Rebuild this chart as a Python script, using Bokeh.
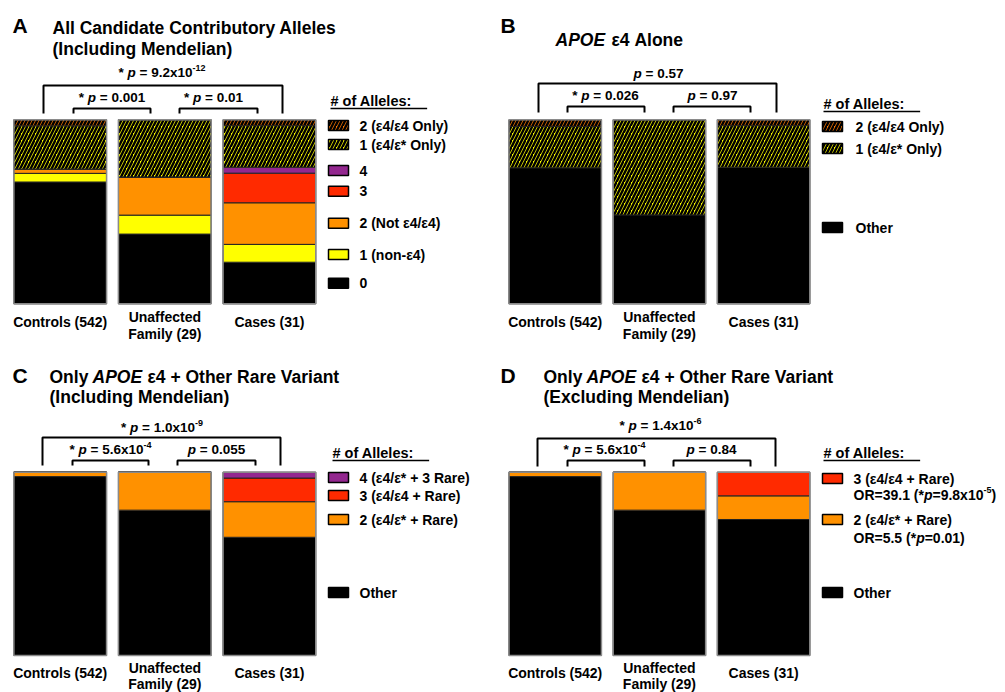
from bokeh.plotting import figure
from bokeh.models import Range1d, ColumnDataSource
from bokeh.layouts import column, row
from bokeh.core.properties import value
from bokeh.embed import file_html
from bokeh.resources import INLINE

FONT = "Liberation Sans"

# ------------------------------------------------------------------ data
categories = ["Controls (542)", "Unaffected\nFamily (29)", "Cases (31)"]

# Panel A (percent of group), stacked bottom -> top
a_zero        = [66.2, 37.9, 22.6]
a_one_non_e4  = [4.7, 10.3, 9.7]
a_two_not_e4  = [2.4, 20.7, 22.6]
a_three       = [0.0, 0.0, 16.1]
a_four        = [0.0, 0.0, 3.2]
a_one_e4_only = [23.4, 31.1, 22.6]
a_two_e4_only = [3.3, 0.0, 3.2]

# Panel B
b_other       = [73.9, 48.3, 74.2]
b_one_e4_only = [22.5, 51.7, 22.6]
b_two_e4_only = [3.6, 0.0, 3.2]

# Panel C
c_other = [97.6, 79.3, 64.5]
c_two   = [2.4, 20.7, 19.4]
c_three = [0.0, 0.0, 12.9]
c_four  = [0.0, 0.0, 3.2]

# Panel D
d_other = [97.6, 79.3, 74.2]
d_two   = [2.4, 20.7, 12.9]
d_three = [0.0, 0.0, 12.9]

# p-values: (significance star, mantissa, exponent)  order: outer, left, right
a_pvals = [("*", "9.2x10", "-12"), ("*", "0.001", ""), ("*", "0.01", "")]
b_pvals = [("", "0.57", ""), ("*", "0.026", ""), ("", "0.97", "")]
c_pvals = [("*", "1.0x10", "-9"), ("*", "5.6x10", "-4"), ("", "0.055", "")]
d_pvals = [("*", "1.4x10", "-6"), ("*", "5.6x10", "-4"), ("", "0.84", "")]

a_legend = ["2 (ε4/ε4 Only)", "1 (ε4/ε* Only)", "4", "3", "2 (Not ε4/ε4)", "1 (non-ε4)", "0"]
b_legend = ["2 (ε4/ε4 Only)", "1 (ε4/ε* Only)", "Other"]
c_legend = ["4 (ε4/ε* + 3 Rare)", "3 (ε4/ε4 + Rare)", "2 (ε4/ε* + Rare)", "Other"]
d_legend = ["3 (ε4/ε4 + Rare)", "2 (ε4/ε* + Rare)", "Other"]
d_odds = [("39.1", "9.8x10", "-5"), ("5.5", "0.01", "")]

# ------------------------------------------------------------------ styles
BLACK, YELLOW, ORANGE, RED, PURPLE, HORANGE = ("#000000", "#FFFF00", "#FF9100",
                                                "#FF2A00", "#93278F", "#FF7A00")
HATCH = "/"
HSTYLE = dict(hatch_scale=7, hatch_weight=2.5, hatch_color="black")

# Helvetica-Bold advance widths (per 1000 em)
W = {' ': 278, '*': 389, '=': 584, '.': 278, 'x': 556, '-': 333, '(': 333, ')': 333,
     'p': 611, 'O': 778, 'R': 722, 'ε': 500, '/': 278, '+': 584, '#': 556, ':': 333}
for d in "0123456789":
    W[d] = 556


def tw(s, size):
    return sum(W.get(ch, 580) for ch in s) * size / 1000.0


def make_fig(ox, oy, w, h, c1, sp, bar_top, bar_bot):
    p = figure(width=w, height=h, x_range=Range1d(ox, ox + w), y_range=Range1d(oy + h, oy),
               output_backend="svg", toolbar_location=None, min_border=0,
               x_axis_location=None, y_axis_location=None)
    p.xgrid.visible = False
    p.ygrid.visible = False
    p.outline_line_color = None
    p.background_fill_color = "white"
    p.border_fill_color = "white"
    p.extra_x_ranges = {"cat": Range1d(1 + (ox - c1) / sp, 1 + (ox + w - c1) / sp)}
    k = 100.0 / (bar_bot - bar_top)
    p.extra_y_ranges = {"pct": Range1d((bar_bot - (oy + h)) * k, (bar_bot - oy) * k)}
    return p


def text(p, x, y, s, size=14, style="bold", align="left"):
    p.text(x=[x], y=[y], text=[s], text_font=value(FONT), text_font_size=value(f"{size}px"),
           text_font_style=value(style), text_align=align, text_baseline="middle",
           text_color="black")


def rich(p, x, y, pieces, align="center"):
    total = sum(tw(t, sz) for t, st, sz, dy in pieces)
    cx = x - total / 2 if align == "center" else x
    for t, st, sz, dy in pieces:
        lead = len(t) - len(t.lstrip(" "))
        s = t.strip(" ")
        if s:
            text(p, cx + tw(" " * lead, sz), y + dy, s, size=sz, style=st)
        cx += tw(t, sz)


def pval_pieces(pv, size=13.5):
    star, mant, expo = pv
    pcs = []
    if star:
        pcs.append((star + " ", "bold", size, 0))
    pcs.append(("p", "bold italic", size, 0))
    pcs.append((" = " + mant, "bold", size, 0))
    if expo:
        pcs.append((expo, "bold", 9, -5))
    return pcs


def brackets(p, outer, inner_l, inner_r, pvals, texts_y, legs_bottom):
    x0, x1, top = outer
    p.line(x=[x0, x0, x1, x1], y=[legs_bottom, top, top, legs_bottom], line_color="black",
           line_width=2)
    for (a, b, t) in (inner_l, inner_r):
        p.line(x=[a, a, b, b], y=[legs_bottom, t, t, legs_bottom], line_color="black",
               line_width=2)
    for pv, (cx, cy) in zip(pvals, texts_y):
        rich(p, cx, cy, pval_pieces(pv))


def bars(p, layers, fills, hatches, sp, bw):
    keys = [f"s{i}" for i in range(len(layers))]
    data = {"x": [1, 2, 3]}
    for kk, v in zip(keys, layers):
        data[kk] = v
    src = ColumnDataSource(data)
    p.vbar_stack(keys, x="x", width=bw / sp, source=src, fill_color=fills,
                 line_color="#222222", line_width=1, hatch_pattern=hatches,
                 x_range_name="cat", y_range_name="pct", **HSTYLE)
    totals = [sum(col) for col in zip(*layers)]
    p.vbar(x=[1, 2, 3], width=bw / sp, bottom=0, top=totals, fill_color=None,
           line_color="#8a8a8a", line_width=1.5, x_range_name="cat", y_range_name="pct")


def cat_labels(p, c1, sp, y):
    for i, c in enumerate(categories):
        lines = c.split("\n")
        xc = c1 + i * sp
        if len(lines) == 1:
            text(p, xc, y, lines[0], size=14, align="center")
        else:
            text(p, xc, y - 5, lines[0], size=14, align="center")
            text(p, xc, y + 11.5, lines[1], size=14, align="center")


def legend(p, hx, hy, sx, tx, entries, sw=20, shh=10):
    text(p, hx, hy, "# of Alleles:", size=14.5)
    p.line(x=[hx, hx + tw("# of Alleles:", 14.5)], y=[hy + 8, hy + 8], line_color="black",
           line_width=1.3)
    for lab, y, col, hat in entries:
        p.rect(x=[sx + sw / 2], y=[y], width=sw, height=shh, fill_color=col,
               line_color="black", line_width=1.5, hatch_pattern=hat, **HSTYLE)
        if isinstance(lab, str):
            text(p, tx, y, lab, size=14)


def title_line(p, y, parts, size=17.5):
    for s, x, st in parts:
        text(p, x, y, s, size=size, style=st)


# ------------------------------------------------------------------ panel A
A_C1, A_SP, A_BW = 59.7, 104.6, 92.7
B_C1, B_SP, B_BW = 554.7, 104.2, 92.5

pA = make_fig(0, 0, 498, 358, A_C1, A_SP, 119.3, 303.3)
bars(pA, [a_zero, a_one_non_e4, a_two_not_e4, a_three, a_four, a_one_e4_only, a_two_e4_only],
     [BLACK, YELLOW, ORANGE, RED, PURPLE, YELLOW, HORANGE],
     [None, None, None, None, None, HATCH, HATCH], A_SP, A_BW)
text(pA, 12, 25, "A", size=21)
text(pA, 52, 27, "All Candidate Contributory Alleles", size=17.5)
text(pA, 52, 48, "(Including Mendelian)", size=17.5)
brackets(pA, (43, 282, 85), (73, 150, 108), (179, 257, 108), a_pvals,
         [(161.5, 72), (111.5, 97), (213, 97)], 113)
legend(pA, 330, 100, 328, 359, [
    (a_legend[0], 125, HORANGE, HATCH), (a_legend[1], 144, YELLOW, HATCH),
    (a_legend[2], 170, PURPLE, None), (a_legend[3], 190.7, RED, None),
    (a_legend[4], 222.7, ORANGE, None), (a_legend[5], 254, YELLOW, None),
    (a_legend[6], 282.7, BLACK, None)])
cat_labels(pA, A_C1, A_SP, 321.7)

# ------------------------------------------------------------------ panel B
pB = make_fig(498, 0, 507, 358, B_C1, B_SP, 119.3, 303.3)
bars(pB, [b_other, b_one_e4_only, b_two_e4_only], [BLACK, YELLOW, HORANGE],
     [None, HATCH, HATCH], B_SP, B_BW)
text(pB, 500, 25, "B", size=21)
title_line(pB, 39, [("APOE", 555, "bold italic"), ("ε4 Alone", 611, "bold")])
brackets(pB, (538, 776, 83), (567, 644, 106), (673, 750, 106), b_pvals,
         [(658, 73), (605, 95), (712, 95)], 112)
legend(pB, 823, 103, 822, 855, [
    (b_legend[0], 126, HORANGE, HATCH), (b_legend[1], 148, YELLOW, HATCH),
    (b_legend[2], 227, BLACK, None)])
cat_labels(pB, B_C1, B_SP, 321.7)

# ------------------------------------------------------------------ panel C
pC = make_fig(0, 358, 498, 334, A_C1, A_SP, 471.7, 655)
bars(pC, [c_other, c_two, c_three, c_four], [BLACK, ORANGE, RED, PURPLE],
     [None, None, None, None], A_SP, A_BW)
text(pC, 12, 375, "C", size=21)
title_line(pC, 376, [("Only", 49, "bold"), ("APOE", 92, "bold italic"),
                     ("ε4 + Other Rare Variant", 147, "bold")])
text(pC, 49, 396, "(Including Mendelian)", size=17.5)
brackets(pC, (42, 280, 437), (72, 148, 460), (177, 255, 460), c_pvals,
         [(161.5, 427), (110, 449), (216, 449)], 465)
legend(pC, 332, 452, 328, 359, [
    (c_legend[0], 477, PURPLE, None), (c_legend[1], 495, RED, None),
    (c_legend[2], 519, ORANGE, None), (c_legend[3], 592, BLACK, None)])
cat_labels(pC, A_C1, A_SP, 672)

# ------------------------------------------------------------------ panel D
pD = make_fig(498, 358, 507, 334, B_C1, B_SP, 471.7, 655)
bars(pD, [d_other, d_two, d_three], [BLACK, ORANGE, RED], [None, None, None], B_SP, B_BW)
text(pD, 500, 375, "D", size=21)
title_line(pD, 376, [("Only", 543, "bold"), ("APOE", 586, "bold italic"),
                     ("ε4 + Other Rare Variant", 641, "bold")])
text(pD, 543, 396, "(Excluding Mendelian)", size=17.5)
brackets(pD, (537, 775, 438), (567, 644, 460), (673, 750, 460), d_pvals,
         [(660, 425), (604, 449), (711, 449)], 466)
legend(pD, 823, 452, 822, 853, [
    (d_legend[0], 478, RED, None), (d_legend[1], 519, ORANGE, None),
    (d_legend[2], 592, BLACK, None)])
for (orv, mant, expo), y in zip(d_odds, [494, 537]):
    pcs = [("OR=" + orv + " (*", "bold", 14, 0), ("p", "bold italic", 14, 0),
           ("=" + mant, "bold", 14, 0)]
    if expo:
        pcs.append((expo, "bold", 9, -5))
    pcs.append((")", "bold", 14, 0))
    rich(pD, 853, y, pcs, align="left")
cat_labels(pD, B_C1, B_SP, 672)

layout = column(row(pA, pB, spacing=0), row(pC, pD, spacing=0), spacing=0)
open("out.html", "w").write(file_html(layout, INLINE))
